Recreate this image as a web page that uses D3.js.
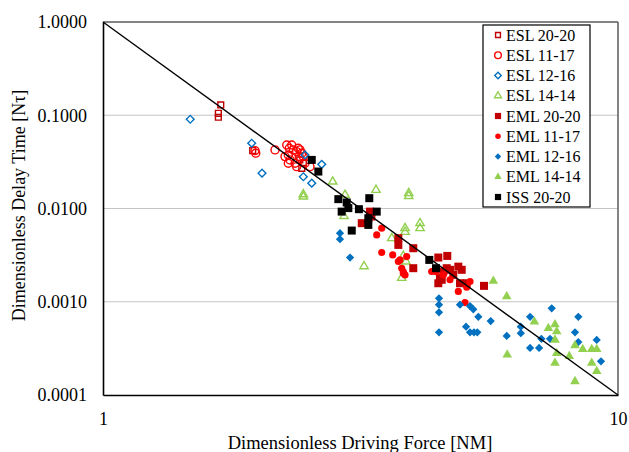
<!DOCTYPE html>
<html>
<head>
<meta charset="utf-8">
<script src="https://cdn.jsdelivr.net/npm/d3@7"></script>
<style>
  body { margin: 0; background: #fff; }
  svg text { font-family: "Liberation Serif", "Times New Roman", serif; fill: #000; }
</style>
</head>
<body>
<div id="chart"></div>
<script>
// [driving force NM, delay time Nτ]
var eslSq2020 = [[1.693,0.129],[1.675,0.105],[1.675,0.0952],[1.953,0.0418],[2.432,0.027],[2.449,0.031],[2.41,0.0332]];
var eslCi1117 = [[1.973,0.0418],[1.98,0.0392],[2.158,0.0425],[2.274,0.048],[2.30,0.0443],[2.342,0.0425],[2.377,0.0407],
  [2.29,0.0375],[2.307,0.0332],[2.36,0.0306],[2.405,0.036],[2.432,0.0392],[2.256,0.036],[2.325,0.048],[2.394,0.0443],
  [2.467,0.0306],[2.523,0.0281],[2.29,0.0306],[2.377,0.0281],[2.413,0.0425],[2.449,0.036]];
var eslDi1216 = [[1.477,0.0906],[1.944,0.0501],[2.036,0.0239],[2.467,0.0375],[2.659,0.0298],[2.449,0.0219],[2.543,0.0187]];
var eslTr1414 = [[2.449,0.0134],[2.449,0.0142],[2.793,0.0194],[2.951,0.014],[2.938,0.0083],[3.389,0.0158],[3.923,0.0146],
  [3.923,0.0136],[4.127,0.00696],[4.127,0.00615],[3.859,0.00615],[3.859,0.0056],[3.636,0.0048],[3.83,0.0031],
  [3.876,0.0027],[3.213,0.0024],[3.802,0.0018]];
var emlSq2020 = [[3.18,0.00696],[3.299,0.00926],[3.32,0.0082],[3.745,0.00407],[3.745,0.0048],[4.004,0.00375],[4.004,0.00229],
  [4.478,0.00298],[4.661,0.0031],[4.897,0.00238],[4.972,0.0022],[4.579,0.00211],[4.512,0.00179],[4.478,0.00158],
  [4.718,0.0022],[4.934,0.00158],[5.493,0.00148],[4.788,0.00194],[5.084,0.00158],[4.649,0.00229],[4.547,0.00172]];
var emlCi1117 = [[3.40,0.00521],[3.477,0.00615],[3.477,0.00337],[3.652,0.00318],[3.745,0.0027],[3.802,0.00229],[3.83,0.00202],
  [3.859,0.00194],[3.888,0.00305],[3.773,0.00281],[4.347,0.00211],[4.897,0.00129],[5.16,0.00165],[5.084,0.00143],
  [4.579,0.00194],[4.718,0.00172],[5.046,0.00098],[3.83,0.0021],[4.43,0.0021]];
var emlDi1216 = [[2.885,0.00544],[2.885,0.00469],[3.018,0.00298],[4.492,0.00109],[4.492,0.00093],[4.492,0.00077],[4.492,0.00047],
  [4.934,0.00093],[5.16,0.0009],[5.236,0.00083],[5.355,0.00069],[5.069,0.00054],[5.16,0.00047],[5.253,0.00047],
  [5.331,0.00047],[5.66,0.00062],[6.08,0.00043],[6.475,0.00054],[6.475,0.00046],[6.75,0.00069],[6.75,0.00032],
  [7.027,0.00032],[7.1,0.0004],[7.435,0.00085],[7.379,0.0004],[8.251,0.00047],[8.374,0.00069],[8.374,0.00037],
  [9.092,0.00039],[9.268,0.00023]];
var emlTr1414 = [[5.727,0.00167],[6.08,0.00114],[6.095,0.00027],[6.881,0.00061],[7.325,0.00052],[7.545,0.00057],[7.603,0.00048],
  [7.545,0.00039],[7.603,0.00028],[7.545,0.00022],[8.043,0.00026],[8.251,0.00034],[8.251,0.00014],[8.541,0.00031],
  [8.891,0.00031],[9.092,0.00031],[8.891,0.00022],[9.092,0.00018]];
var iss2020 = [[2.543,0.0332],[2.619,0.0249],[2.864,0.0126],[2.973,0.0116],[2.907,0.00926],[2.995,0.0101],[3.14,0.00983],
  [3.289,0.0129],[3.40,0.00926],[3.275,0.00787],[3.275,0.00667],[3.041,0.0058],[4.301,0.00281],[4.432,0.00229]];

var seriesNames = ['ESL 20-20','ESL 11-17','ESL 12-16','ESL 14-14','EML 20-20','EML 11-17','EML 12-16','EML 14-14','ISS 20-20'];
var xTicks = [1, 10];
var yTicks = [0.0001, 0.001, 0.01, 0.1, 1];
var fitLine = [[1, 1], [10, 0.0001]];

var width = 629, height = 452;
var padding = { top: 22, right: 11, bottom: 57, left: 103 };
var serif = '"Liberation Serif", "Times New Roman", serif';

var svg = d3.select('#chart').append('svg')
  .attr('width', width)
  .attr('height', height);

var x = d3.scaleLog().domain([1, 10]).range([padding.left, width - padding.right]);
var y = d3.scaleLog().domain([0.0001, 1]).range([height - padding.bottom, padding.top]);

// gridlines
svg.append('g')
  .selectAll('line')
  .data(yTicks.slice(1, 4))
  .enter().append('line')
  .attr('x1', x(1)).attr('x2', x(10))
  .attr('y1', function (d) { return y(d); })
  .attr('y2', function (d) { return y(d); })
  .attr('stroke', '#c4c4c4').attr('stroke-width', 1.2);

// frame: top / right grey, left / bottom black
svg.append('line').attr('x1', x(1)).attr('x2', x(10)).attr('y1', y(1)).attr('y2', y(1))
  .attr('stroke', '#5a5a5a').attr('stroke-width', 1.5);
svg.append('line').attr('x1', x(10)).attr('x2', x(10)).attr('y1', y(1)).attr('y2', y(0.0001))
  .attr('stroke', '#5a5a5a').attr('stroke-width', 1.5);

var yAxis = svg.append('g')
  .attr('transform', 'translate(' + x(1) + ',0)')
  .call(d3.axisLeft(y).tickValues(yTicks).tickSize(0).tickPadding(16)
    .tickFormat(function (d) { return d.toFixed(4); }));
var xAxis = svg.append('g')
  .attr('transform', 'translate(0,' + y(0.0001) + ')')
  .call(d3.axisBottom(x).tickValues(xTicks).tickSize(0).tickPadding(17)
    .tickFormat(d3.format('d')));
[yAxis, xAxis].forEach(function (a) {
  a.attr('font-family', serif).attr('font-size', 18);
  a.select('.domain').attr('stroke', '#000').attr('stroke-width', 1.6);
  a.selectAll('text').attr('font-family', serif).style('font-family', serif).style('font-size', '18px');
});

// marker styles
var diamond = d3.symbolSquare;
var styles = [
  { data: eslSq2020, type: d3.symbolSquare, size: 34, color: '#c00000', fill: false, rot: 0 },
  { data: eslCi1117, type: d3.symbolCircle, size: 50, color: '#ff0000', fill: false, rot: 0 },
  { data: eslDi1216, type: diamond, size: 30, color: '#0070c0', fill: false, rot: 45 },
  { data: eslTr1414, type: d3.symbolTriangle, size: 30, color: '#92d050', fill: false, rot: 0 },
  { data: emlSq2020, type: d3.symbolSquare, size: 64, color: '#c00000', fill: true, rot: 0 },
  { data: emlCi1117, type: d3.symbolCircle, size: 40, color: '#ff0000', fill: true, rot: 0 },
  { data: emlDi1216, type: diamond, size: 34, color: '#0070c0', fill: true, rot: 45 },
  { data: emlTr1414, type: d3.symbolTriangle, size: 40, color: '#92d050', fill: true, rot: 0 },
  { data: iss2020, type: d3.symbolSquare, size: 64, color: '#000000', fill: true, rot: 0 }
];

function styleMarker(sel, s) {
  sel.attr('d', d3.symbol().type(s.type).size(s.size))
    .attr('fill', s.fill ? s.color : 'none')
    .attr('stroke', s.fill ? 'none' : s.color)
    .attr('stroke-width', 1.4);
}

styles.forEach(function (s) {
  svg.append('g').selectAll('path')
    .data(s.data)
    .enter().append('path')
    .attr('transform', function (d) {
      return 'translate(' + x(d[0]) + ',' + y(d[1]) + ') rotate(' + s.rot + ')';
    })
    .call(styleMarker, s);
});

// power-law reference line
svg.append('path')
  .datum(fitLine)
  .attr('d', d3.line().x(function (d) { return x(d[0]); }).y(function (d) { return y(d[1]); }))
  .attr('stroke', '#000').attr('stroke-width', 1.4).attr('fill', 'none');

// legend
var legend = svg.append('g').attr('transform', 'translate(483,25)');
legend.append('rect').attr('width', 107).attr('height', 182)
  .attr('fill', '#fff').attr('stroke', '#000').attr('stroke-width', 1.2);
seriesNames.forEach(function (name, i) {
  var s = styles[i];
  var row = legend.append('g').attr('transform', 'translate(0,' + (10 + i * 20.25) + ')');
  row.append('path')
    .attr('transform', 'translate(15,0) rotate(' + s.rot + ')')
    .call(styleMarker, { type: s.type, size: s.fill ? s.size * 0.6 : s.size * 0.7, color: s.color, fill: s.fill });
  row.append('text').attr('x', 23).attr('y', 5.5).style('font-size', '16px').text(name);
});

// axis titles
svg.append('text')
  .attr('x', 360).attr('y', 449)
  .attr('text-anchor', 'middle').style('font-size', '18.5px')
  .text('Dimensionless Driving Force [NM]');
svg.append('text')
  .attr('transform', 'translate(25,' + ((y(1) + y(0.0001)) / 2 - 3) + ') rotate(-90)')
  .attr('text-anchor', 'middle').style('font-size', '18px')
  .text('Dimensionless Delay Time [Nτ]');
</script>
</body>
</html>
